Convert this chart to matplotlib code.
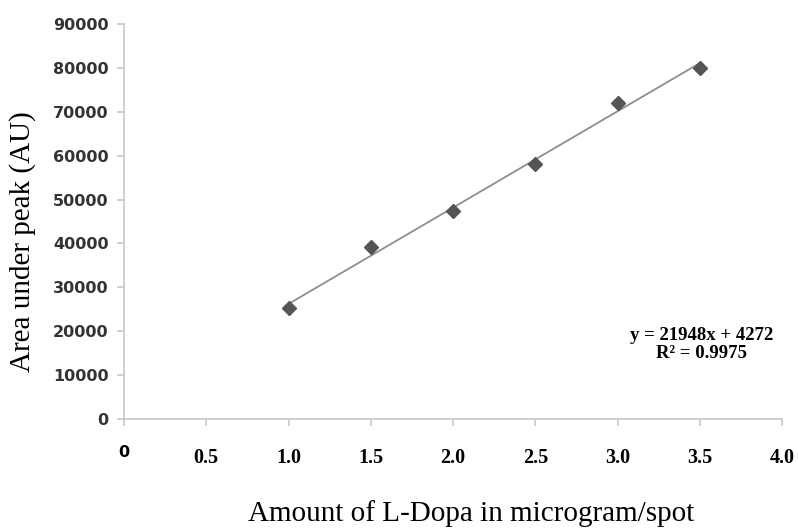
import matplotlib
matplotlib.use('Agg')
import numpy as np
import matplotlib.pyplot as plt

# L-Dopa calibration data
amount = [1.0, 1.5, 2.0, 2.5, 3.0, 3.5]
area = [25300, 39100, 47400, 58000, 72000, 80000]

# linear trend line from the fitted equation
slope = 21948
intercept = 4272
r2 = 0.9975

x_ticks = [0, 0.5, 1.0, 1.5, 2.0, 2.5, 3.0, 3.5, 4.0]
x_tick_labels = ['0', '0.5', '1.0', '1.5', '2.0', '2.5', '3.0', '3.5', '4.0']
y_ticks = list(range(0, 90001, 10000))

fig = plt.figure(figsize=(7.98, 5.30), dpi=100)
ax = fig.add_axes([0.1554, 0.2094, 0.8246, 0.7453])

xs = np.array([min(amount), max(amount)])
ax.plot(xs, slope * xs + intercept, color='#8e8e8e', lw=1.3, zorder=2)
ax.plot(amount, area, linestyle='none', marker='D', markersize=7,
        color='#555555', zorder=3)

ax.set_xlim(0, 4.0)
ax.set_ylim(0, 90000)
ax.set_xticks(x_ticks)
ax.set_xticklabels(x_tick_labels, family='Liberation Serif',
                   fontweight='bold', fontsize=14.5, color='black')
# the first x label is set in the same face as the y labels
first = ax.get_xticklabels()[0]
first.set_family('DejaVu Sans')
first.set_fontsize(11.5)
first.set_y(0.008)
ax.set_yticks(y_ticks)
ax.set_yticklabels([str(v) for v in y_ticks], family='DejaVu Sans',
                   fontweight='bold', fontsize=11.5, color='#333333')

for side in ['top', 'right']:
    ax.spines[side].set_visible(False)
for side in ['left', 'bottom']:
    ax.spines[side].set_color('#c8c8c8')
    ax.spines[side].set_linewidth(1.2)
ax.tick_params(axis='x', direction='out', length=5, width=1.2,
               color='#c8c8c8', pad=16)
ax.tick_params(axis='y', direction='out', length=5, width=1.2,
               color='#c8c8c8', pad=6)

ax.text(3.51, 17000, 'y = 21948x + 4272\nR² = {:.4f}'.format(r2),
        ha='center', va='center', family='Liberation Serif',
        fontweight='bold', fontsize=13.5, linespacing=1.05)

fig.text(471 / 798, 1 - 514 / 530, 'Amount of L-Dopa in microgram/spot',
         ha='center', va='center', family='Liberation Serif', fontsize=21)
fig.text(23 / 798, 1 - 242 / 530, 'Area under peak (AU)', rotation=90,
         ha='center', va='center', family='Liberation Serif', fontsize=21)

fig.savefig('out.png', dpi=100)
